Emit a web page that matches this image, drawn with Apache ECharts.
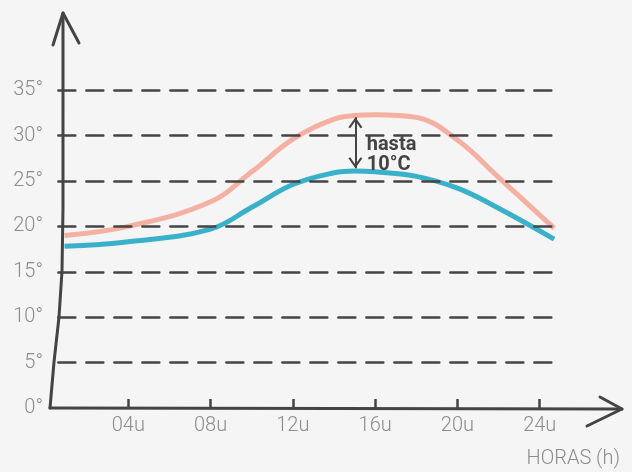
<!DOCTYPE html>
<html>
<head>
<meta charset="utf-8">
<script src="https://cdn.jsdelivr.net/npm/echarts@6/dist/echarts.min.js"></script>
<style>
html,body{margin:0;padding:0;background:#f5f5f5;}
#c{width:632px;height:472px;}
</style>
</head>
<body>
<div id="c"></div>
<script>
// ---- data ----
const hours   = [0.9, 4, 8, 10, 12, 14, 15, 16, 18, 20, 22, 24.7];
const maxTemp = [19.0, 20.0, 22.7, 26.0, 29.6, 31.8, 32.2, 32.3, 32.0, 29.5, 25.4, 19.8];
const minTemp = [17.8, 18.3, 19.7, 22.1, 24.6, 25.9, 26.1, 26.0, 25.5, 24.2, 22.0, 18.6];
const xTicks  = [4, 8, 12, 16, 20, 24];
const yTicks  = [0, 5, 10, 15, 20, 25, 30, 35];
const gridVals = [5, 10, 15, 20, 25, 30, 35];
const gridFrom = 0.6, gridTo = 24.75;
const annotX = 15.04, annotTop = 32.0, annotBottom = 26.4;
const annotText = 'hasta\n10°C';
const xName = 'HORAS (h)';
const xMax = 28, yMax = 43.6;

const FONT = 'Roboto, "DejaVu Sans", sans-serif';
const chevron = 'path://M6,0M0,19L6,10L12,19L10.4,20L6,13.2L1.6,20Z';

const chart = echarts.init(document.getElementById('c'), null, {renderer: 'canvas'});

const option = {
  backgroundColor: '#f5f5f5',
  animation: false,
  grid: {left: 46, right: 632 - 46 - 576, top: 12, bottom: 64},
  xAxis: {
    type: 'value', min: 0, max: xMax,
    axisLine: {show: false},
    splitLine: {show: false},
    axisTick: {show: true, inside: true, length: 9, customValues: xTicks,
      lineStyle: {color: '#444', width: 2.5}},
    axisLabel: {customValues: xTicks, color: '#8c8c8c', fontSize: 20, fontFamily: FONT,
      fontWeight: 300, margin: 8,
      formatter: v => String(v).padStart(2, '0') + 'u'}
  },
  yAxis: {
    type: 'value', min: 0, max: yMax,
    axisLine: {show: false},
    axisTick: {show: false},
    splitLine: {show: false},
    axisLabel: {customValues: yTicks, color: '#8c8c8c', fontSize: 20, fontFamily: FONT,
      fontWeight: 300, margin: 3, formatter: v => v + '°'}
  },
  series: [
    {
      type: 'line', data: [], z: 1, silent: true,
      markLine: {
        silent: true, symbol: 'none', label: {show: false},
        lineStyle: {color: '#444', width: 2.5, type: [17, 11], cap: 'round'},
        data: gridVals.map(v => [{coord: [gridFrom, v]}, {coord: [gridTo, v]}])
      }
    },
    {
      name: 'max', type: 'line', z: 3, smooth: 0.4, showSymbol: false,
      data: hours.map((h, i) => [h, maxTemp[i]]),
      lineStyle: {color: '#f4b0a1', width: 5}
    },
    {
      name: 'min', type: 'line', z: 3, smooth: 0.4, showSymbol: false,
      data: hours.map((h, i) => [h, minTemp[i]]),
      lineStyle: {color: '#3ab1ca', width: 5},
      markLine: {
        silent: true, symbol: [chevron, chevron], symbolSize: [14, 22],
        label: {show: false},
        lineStyle: {color: '#444', width: 2, type: 'solid'},
        data: [[{coord: [annotX, annotTop]}, {coord: [annotX, annotBottom]}]]
      }
    }
  ]
};
chart.setOption(option);

// decorative hand-drawn axes + annotation text, placed from the axis scales
const o = chart.convertToPixel({gridIndex: 0}, [0, 0]);
const tp = chart.convertToPixel({gridIndex: 0}, [0, yMax]);
const ep = chart.convertToPixel({gridIndex: 0}, [xMax, 0]);
const tx = chart.convertToPixel({gridIndex: 0}, [annotX + 0.55, annotTop - 2.0]);
const axisStyle = {stroke: '#444', lineWidth: 3, fill: null, lineCap: 'round', lineJoin: 'round'};
chart.setOption({
  graphic: [
    {type: 'polyline', z: 10, shape: {points: [
      [o[0] + 4, o[1]], [o[0] + 8, o[1] - 46], [o[0] + 13, o[1] - 91],
      [o[0] + 16, o[1] - 137], [o[0] + 17, o[1] - 200], [o[0] + 17, tp[1] + 1]]}, style: axisStyle},
    {type: 'polyline', z: 10, shape: {points: [
      [tp[0] + 7, tp[1] + 33], [tp[0] + 17, tp[1] + 1], [tp[0] + 33, tp[1] + 31]]}, style: axisStyle},
    {type: 'polyline', z: 10, shape: {points: [[o[0] + 4, o[1]], [ep[0], ep[1] + 1]]}, style: axisStyle},
    {type: 'polyline', z: 10, shape: {points: [
      [ep[0] - 22, ep[1] - 11], [ep[0], ep[1] + 1], [ep[0] - 35, ep[1] + 18]]}, style: axisStyle},
    {type: 'text', z: 10, x: tx[0], y: tx[1] - 1, style: {text: annotText, fill: '#444',
      font: 'bold 20px ' + FONT, lineHeight: 20, textVerticalAlign: 'top'}},
    {type: 'text', z: 10, right: 12, bottom: 3, style: {text: xName, fill: '#8c8c8c',
      font: '300 20px ' + FONT}}
  ]
});
</script>
</body>
</html>
